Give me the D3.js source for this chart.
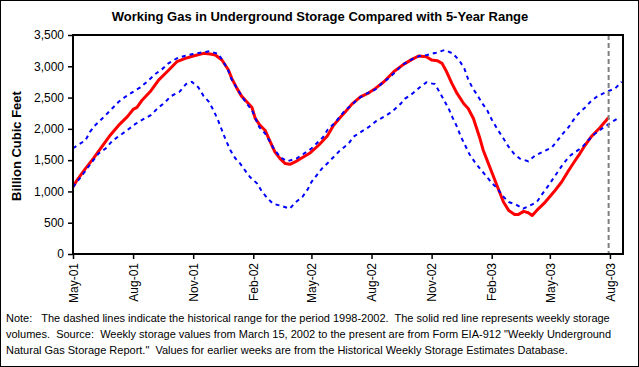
<!DOCTYPE html>
<html><head><meta charset="utf-8">
<script src="https://cdn.jsdelivr.net/npm/d3@7/dist/d3.min.js"></script>
<style>
body{margin:0;background:#fff;}
svg{display:block;font-family:"Liberation Sans",Arial,sans-serif;}
.note{white-space:pre;}
</style></head><body>
<svg id="chart" width="639" height="367"></svg>
<script>
// ---------- DATA ----------
const titleText = "Working Gas in Underground Storage Compared with 5-Year Range";
const yAxisTitle = "Billion Cubic Feet";
const noteLines = [
  "Note:   The dashed lines indicate the historical range for the period 1998-2002.  The solid red line represents weekly storage",
  "volumes.  Source:  Weekly storage values from March 15, 2002 to the present are from Form EIA-912 \"Weekly Underground",
  "Natural Gas Storage Report.\"  Values for earlier weeks are from the Historical Weekly Storage Estimates Database."
];
const xDomain = ["2001-05-01", "2003-08-21"];
const xTickDates = ["2001-05-01","2001-08-01","2001-11-01","2002-02-01","2002-05-01","2002-08-01","2002-11-01","2003-02-01","2003-05-01","2003-08-01"];
const yTickValues = [0, 500, 1000, 1500, 2000, 2500, 3000, 3500];
const currentWeek = "2003-07-30";

// Weekly storage (solid red line)
const storageDates = ["2001-05-01","2001-05-07","2001-05-20","2001-06-01","2001-06-14","2001-06-27","2001-07-10","2001-07-23","2001-08-01","2001-08-07","2001-08-14","2001-08-27","2001-09-09","2001-09-22","2001-10-07","2001-10-20","2001-11-01","2001-11-17","2001-11-27","2001-12-05","2001-12-15","2001-12-25","2001-12-30","2002-01-07","2002-01-14","2002-01-22","2002-01-30","2002-02-04","2002-02-11","2002-02-19","2002-02-27","2002-03-06","2002-03-14","2002-03-22","2002-03-29","2002-04-06","2002-04-16","2002-04-29","2002-05-12","2002-05-25","2002-06-04","2002-06-14","2002-06-22","2002-07-02","2002-07-15","2002-07-28","2002-08-07","2002-08-20","2002-09-04","2002-09-19","2002-10-02","2002-10-12","2002-10-24","2002-11-01","2002-11-10","2002-11-17","2002-11-24","2002-12-02","2002-12-10","2002-12-20","2002-12-27","2003-01-04","2003-01-14","2003-01-19","2003-01-27","2003-02-04","2003-02-11","2003-02-19","2003-02-27","2003-03-08","2003-03-14","2003-03-22","2003-03-29","2003-04-04","2003-04-11","2003-04-24","2003-05-07","2003-05-19","2003-05-30","2003-06-09","2003-06-16","2003-06-24","2003-07-04","2003-07-17","2003-07-30"];
const storageValues = [1070,1177,1365,1525,1711,1898,2059,2192,2310,2342,2448,2592,2779,2912,3073,3127,3164,3207,3196,3180,3100,2940,2807,2647,2523,2432,2342,2166,2059,1978,1791,1631,1525,1445,1434,1471,1535,1615,1738,1882,2059,2182,2272,2395,2512,2576,2647,2752,2912,3031,3111,3164,3153,3100,3089,3047,2912,2727,2566,2406,2326,2166,1845,1658,1445,1230,1044,830,697,633,633,681,660,617,697,830,990,1150,1338,1498,1605,1738,1882,2022,2182];

// 5-year maximum (upper dashed blue)
const maxDates = ["2001-05-01","2001-05-20","2001-05-27","2001-06-04","2001-06-12","2001-06-20","2001-06-30","2001-07-10","2001-07-20","2001-08-01","2001-08-12","2001-08-25","2001-09-04","2001-09-14","2001-09-24","2001-10-07","2001-10-20","2001-11-01","2001-11-15","2001-11-26","2001-12-10","2001-12-17","2001-12-24","2001-12-29","2002-01-07","2002-01-20","2002-01-30","2002-02-10","2002-02-20","2002-02-28","2002-03-06","2002-03-15","2002-03-25","2002-04-08","2002-04-18","2002-05-01","2002-05-19","2002-05-26","2002-06-06","2002-06-14","2002-06-22","2002-07-04","2002-07-12","2002-07-25","2002-08-07","2002-08-17","2002-08-30","2002-09-17","2002-09-29","2002-10-13","2002-10-25","2002-11-08","2002-11-21","2002-12-03","2002-12-13","2002-12-21","2002-12-27","2003-01-03","2003-01-10","2003-01-17","2003-01-25","2003-02-01","2003-02-10","2003-02-19","2003-02-27","2003-03-07","2003-03-16","2003-03-29","2003-04-09","2003-04-20","2003-05-04","2003-05-13","2003-05-21","2003-05-30","2003-06-06","2003-06-13","2003-06-24","2003-07-03","2003-07-13","2003-07-26","2003-08-09","2003-08-19"];
const maxValues = [1690,1818,1951,2059,2139,2219,2326,2432,2512,2592,2662,2779,2876,2951,3047,3127,3169,3196,3223,3240,3196,3073,2951,2807,2647,2432,2299,2031,1914,1765,1658,1541,1482,1525,1594,1685,1871,1989,2096,2203,2299,2406,2486,2566,2630,2727,2832,3020,3100,3164,3180,3217,3260,3207,3100,2967,2791,2647,2539,2416,2299,2150,1989,1845,1711,1605,1525,1482,1578,1631,1701,1818,1925,2031,2139,2235,2342,2443,2523,2587,2647,2752];

// 5-year minimum (lower dashed blue)
const minDates = ["2001-05-01","2001-05-07","2001-05-15","2001-06-01","2001-06-09","2001-06-20","2001-06-30","2001-07-10","2001-07-23","2001-08-04","2001-08-16","2001-08-28","2001-09-09","2001-09-18","2001-09-28","2001-10-11","2001-10-21","2001-10-30","2001-11-09","2001-11-17","2001-11-25","2001-12-02","2001-12-09","2001-12-15","2001-12-21","2001-12-28","2002-01-04","2002-01-12","2002-01-20","2002-01-27","2002-02-07","2002-02-14","2002-02-22","2002-03-03","2002-03-15","2002-03-29","2002-04-06","2002-04-17","2002-04-25","2002-05-01","2002-05-09","2002-05-17","2002-05-26","2002-06-04","2002-06-14","2002-06-27","2002-07-04","2002-07-16","2002-07-28","2002-08-08","2002-08-22","2002-09-03","2002-09-15","2002-09-21","2002-10-03","2002-10-13","2002-10-24","2002-11-06","2002-11-13","2002-11-20","2002-11-27","2002-12-03","2002-12-10","2002-12-16","2002-12-23","2002-12-29","2003-01-07","2003-01-16","2003-01-25","2003-02-01","2003-02-09","2003-02-17","2003-02-27","2003-03-10","2003-03-21","2003-04-01","2003-04-11","2003-04-19","2003-04-28","2003-05-05","2003-05-13","2003-05-21","2003-05-31","2003-06-09","2003-06-19","2003-06-29","2003-07-08","2003-07-20","2003-08-02","2003-08-14"];
const minValues = [1070,1150,1258,1498,1605,1685,1807,1882,1978,2075,2150,2219,2342,2416,2523,2592,2715,2752,2662,2523,2432,2299,2139,1978,1818,1658,1535,1445,1327,1230,1125,1001,900,804,772,724,820,910,1028,1150,1258,1365,1455,1551,1658,1765,1871,1951,2031,2123,2203,2288,2406,2480,2566,2656,2742,2715,2592,2459,2326,2182,2031,1871,1722,1594,1455,1338,1230,1134,1060,937,830,793,724,777,830,953,1081,1189,1311,1434,1562,1631,1701,1818,1914,2006,2096,2176];

// ---------- DRAW ----------
const parse = d3.timeParse("%Y-%m-%d");
const svg = d3.select("#chart");
const W = 639, H = 367;
const plot = {left: 73, right: 623, top: 35, bottom: 254};

svg.append("rect").attr("x",0.5).attr("y",0.5).attr("width",W-1).attr("height",H-1)
  .attr("fill","#fff").attr("stroke","#000").attr("stroke-width",1);

const x = d3.scaleTime().domain(xDomain.map(parse)).range([plot.left, plot.right]);
const y = d3.scaleLinear().domain([0, 3500]).range([plot.bottom, plot.top]);

const zip = (ds, vs) => ds.map((d,i) => ({date: parse(d), value: vs[i]}));
const line = d3.line().x(d => x(d.date)).y(d => y(d.value));

// Title
svg.append("text").attr("x", 320).attr("y", 21).attr("text-anchor","middle")
  .attr("font-weight","bold").attr("font-size", 13).text(titleText);

// Y axis
const yAxis = svg.append("g").attr("transform", `translate(${plot.left},0)`)
  .call(d3.axisLeft(y).tickValues(yTickValues).tickFormat(d3.format(",")).tickSize(5).tickPadding(4));
yAxis.select(".domain").remove();
yAxis.selectAll("line").attr("stroke","#000").attr("stroke-width",1.5);
yAxis.selectAll("text").attr("font-size",12).attr("font-family","Liberation Sans, Arial, sans-serif").attr("fill","#000");

// X axis
const xAxis = svg.append("g").attr("transform", `translate(0,${plot.bottom})`)
  .call(d3.axisBottom(x).tickValues(xTickDates.map(parse)).tickFormat(d3.timeFormat("%b-%y")).tickSize(5));
xAxis.select(".domain").remove();
xAxis.selectAll("line").attr("stroke","#000").attr("stroke-width",1.5);
xAxis.selectAll("text").attr("font-size",12).attr("font-family","Liberation Sans, Arial, sans-serif").attr("fill","#000")
  .attr("text-anchor","end").attr("transform","rotate(-90)")
  .attr("x", -9).attr("y", 0).attr("dy","0.35em");

// Y title
svg.append("text").attr("transform", "translate(21,146) rotate(-90)").attr("text-anchor","middle")
  .attr("font-weight","bold").attr("font-size",13).text(yAxisTitle);

// Lines
const g = svg.append("g");
g.append("path").datum(zip(storageDates, storageValues)).attr("d", line)
  .attr("fill","none").attr("stroke","#ff0000").attr("stroke-width",3).attr("stroke-linejoin","round");
g.append("path").datum(zip(maxDates, maxValues)).attr("d", line)
  .attr("fill","none").attr("stroke","#0000ff").attr("stroke-width",2).attr("stroke-dasharray","4,4");
g.append("path").datum(zip(minDates, minValues)).attr("d", line)
  .attr("fill","none").attr("stroke","#0000ff").attr("stroke-width",2).attr("stroke-dasharray","4,4");

// Current-week marker
const cx = x(parse(currentWeek));
svg.append("line").attr("x1",cx).attr("x2",cx).attr("y1",plot.top).attr("y2",plot.bottom)
  .attr("stroke","#808080").attr("stroke-width",2).attr("stroke-dasharray","5,3");

// Plot border
svg.append("rect").attr("x",plot.left).attr("y",plot.top)
  .attr("width",plot.right-plot.left).attr("height",plot.bottom-plot.top)
  .attr("fill","none").attr("stroke","#000").attr("stroke-width",2);

// Note
svg.append("g").selectAll("text").data(noteLines).join("text")
  .attr("class","note").attr("xml:space","preserve")
  .attr("x", 6).attr("y", (d,i) => 322 + i*16).attr("font-size",11).text(d => d);
</script>
</body></html>
